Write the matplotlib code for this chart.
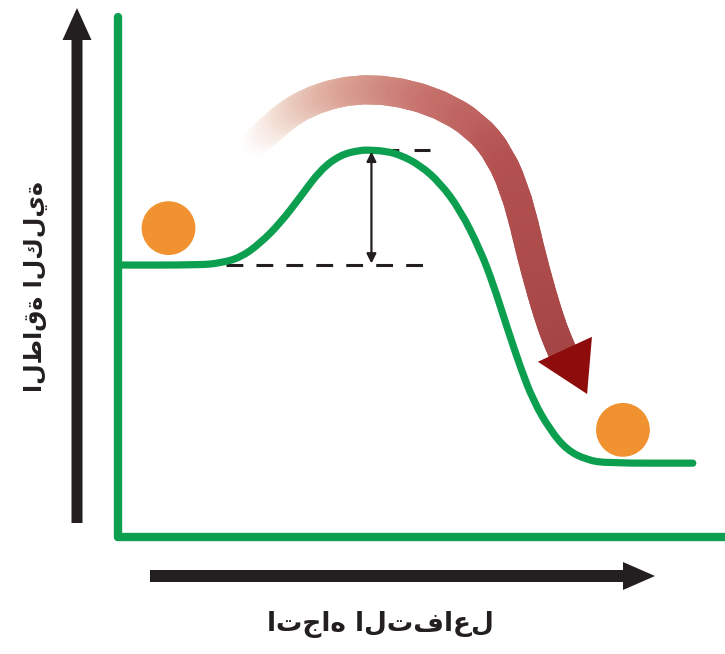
import matplotlib
matplotlib.use("Agg")
import matplotlib.pyplot as plt
import numpy as np
from matplotlib.collections import LineCollection
from matplotlib.colors import LinearSegmentedColormap
from matplotlib.path import Path
from matplotlib.patches import PathPatch

# reaction path (progress 0-100, energy 0-100)
progress = [0.5, 13.7, 16.9, 20.2, 23.5, 26.8, 30.1, 33.4, 36.7, 40.0, 41.6, 44.1,
            46.5, 49.8, 53.1, 56.4, 59.7, 61.8, 64.1, 66.3, 68.4, 71.2, 74.0, 77.3,
            80.6, 94.7]
energy = [52.3, 52.3, 52.7, 53.7, 56.5, 60.4, 65.4, 70.6, 73.5, 74.4, 74.4, 74.2,
          73.5, 71.5, 68.1, 62.9, 55.2, 48.8, 40.4, 32.7, 26.3, 20.6, 16.7, 14.8,
          14.2, 14.2]

reactant_level = 52.3
peak_level = 74.4
low_dash = [17.8, 50.3]
top_dash = [43.6, 51.5]
barrier_x = 41.8

balls_x = [8.4, 83.2]
balls_y = [59.4, 20.6]

# big curved arrow over the hump
flow_x = [22.5, 26.8, 30.1, 35.0, 40.5, 46.5, 53.1, 58.9, 63.0, 66.0, 67.9, 69.9, 71.7, 73.4]
flow_y = [75.5, 80.2, 82.9, 85.2, 86.2, 85.6, 83.3, 79.2, 73.5, 64.8, 55.2, 46.5, 39.8, 35.2]
head_x = [69.2, 78.1, 77.3]
head_y = [33.7, 38.5, 27.5]

y_label = "الطاقة الكلية"
x_label = "اتجاه التفاعل"

green = "#0d9f50"
orange = "#f0922f"


def smooth_path(xs, ys):
    # quadratic b-spline through the midpoints, drawn by matplotlib's Path
    p = np.column_stack([xs, ys])
    verts = [p[0], (p[0] + p[1]) / 2]
    codes = [Path.MOVETO, Path.LINETO]
    for i in range(1, len(p) - 1):
        verts += [p[i], (p[i] + p[i + 1]) / 2]
        codes += [Path.CURVE3, Path.CURVE3]
    verts.append(p[-1])
    codes.append(Path.LINETO)
    return Path(verts, codes)


fig = plt.figure(figsize=(7.25, 6.54), dpi=100)

# overlay in pixel units for the black direction arrows and labels
back = fig.add_axes([0, 0, 1, 1])
back.set_xlim(0, 725)
back.set_ylim(654, 0)
back.axis("off")
back.arrow(77, 523, 0, -515, width=11, head_width=29, head_length=32,
           length_includes_head=True, color="#231f20", lw=0)
back.arrow(150, 576, 505, 0, width=12, head_width=28, head_length=32,
           length_includes_head=True, color="#231f20", lw=0)
back.text(36, 287, y_label, rotation=90, ha="center", va="center",
          fontsize=17, fontweight="bold", color="#231f20", family=["DejaVu Sans"])
back.text(380, 625, x_label, ha="center", va="center",
          fontsize=19, fontweight="bold", color="#231f20", family=["DejaVu Sans"])

ax = fig.add_axes([117.5 / 725, (654 - 537) / 654, (725 - 117.5) / 725, (537 - 17) / 654])
ax.patch.set_alpha(0)
ax.set_xlim(0, 100)
ax.set_ylim(0, 100)
ax.set_xticks([])
ax.set_yticks([])
for side in ["top", "right"]:
    ax.spines[side].set_visible(False)
for side in ["left", "bottom"]:
    ax.spines[side].set_color(green)
    ax.spines[side].set_linewidth(6)
    ax.spines[side].set_capstyle("round")

# gradient shaft: sample the same smooth path so the colour can change along it
shaft = smooth_path(flow_x, flow_y)
fine = np.concatenate([poly for poly in shaft.to_polygons(closed_only=False)])
fine = np.array([v for i, v in enumerate(fine) if i == 0 or not np.allclose(v, fine[i - 1])])
dense = [fine[0]]
for a, b in zip(fine[:-1], fine[1:]):
    for t in np.linspace(0, 1, 5)[1:]:
        dense.append(a + (b - a) * t)
dense = np.array(dense)
segs = np.stack([dense[:-1], dense[1:]], axis=1)
cmap = LinearSegmentedColormap.from_list(
    "flow", [(0, "#ffffff"), (0.1, "#f2dcd2"), (0.25, "#dca596"),
             (0.42, "#c6716b"), (0.65, "#b45252"), (1, "#a64545")])
lc = LineCollection(segs, colors=cmap(np.linspace(0, 1, len(segs))),
                    linewidths=21, capstyle="round", joinstyle="round", zorder=2)
ax.add_collection(lc)
ax.fill(head_x, head_y, color="#8e0c0c", zorder=3, lw=0)

# energy profile
ax.add_patch(PathPatch(smooth_path(progress, energy), facecolor="none", edgecolor=green,
                       lw=5.2, capstyle="round", joinstyle="round", zorder=4))

# activation energy markers
ax.plot(low_dash, [reactant_level, reactant_level], color="#231f20", lw=2.2,
        linestyle=(0, (5.5, 4.3)), zorder=3)
ax.plot(top_dash, [peak_level, peak_level], color="#231f20", lw=2.2,
        linestyle=(0, (5.5, 5.0)), zorder=3)
ax.annotate("", xy=(barrier_x, peak_level - 0.3), xytext=(barrier_x, reactant_level + 0.3),
            arrowprops=dict(arrowstyle="<|-|>", color="#231f20", lw=1.6,
                            mutation_scale=14, shrinkA=0, shrinkB=0), zorder=5)

ax.scatter(balls_x, balls_y, s=1500, color=orange, edgecolors="none", zorder=5)

fig.savefig("out.png", dpi=100)
